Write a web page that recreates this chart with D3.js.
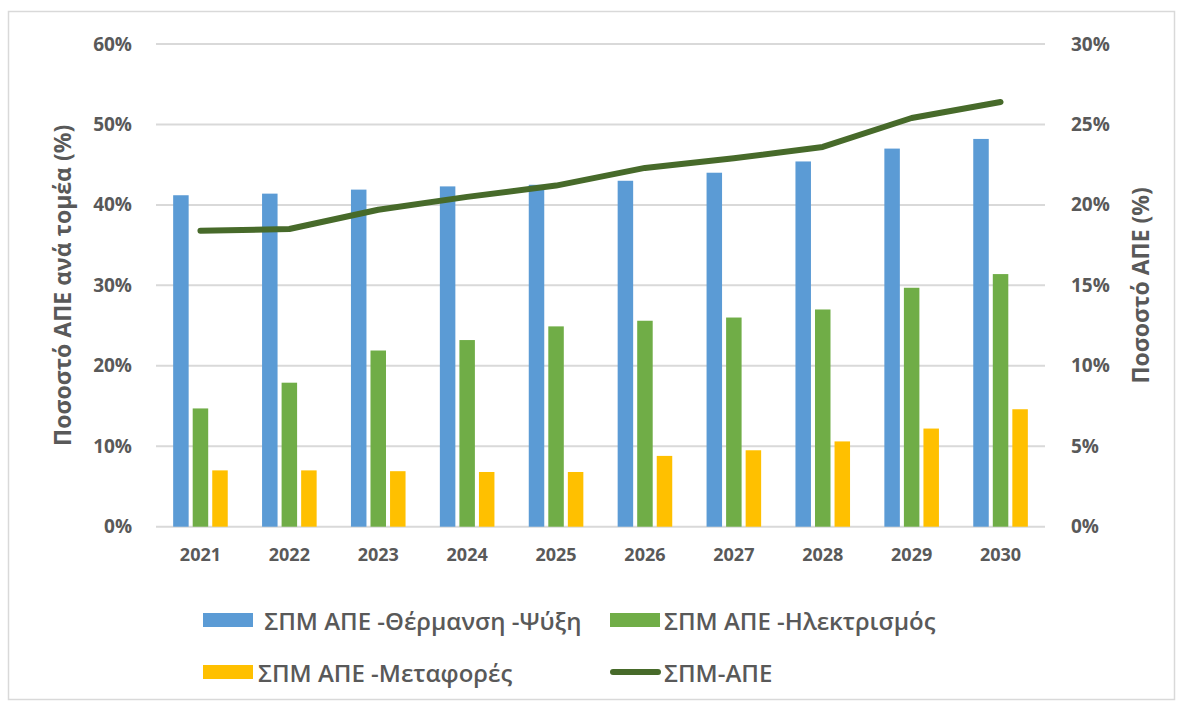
<!DOCTYPE html>
<html>
<head>
<meta charset="utf-8">
<script src="https://cdn.jsdelivr.net/npm/d3@7"></script>
<style>
  html, body { margin: 0; padding: 0; background: #fff; }
  svg { display: block; }
  text { font-family: "Open Sans", "Noto Sans", sans-serif; fill: #595959; }
</style>
</head>
<body>
<svg id="chart" width="1181" height="704"></svg>
<script>
// ---- Data ----
const years = ["2021","2022","2023","2024","2025","2026","2027","2028","2029","2030"];
const heatingCooling = [41.2, 41.4, 41.9, 42.3, 42.5, 43.0, 44.0, 45.4, 47.0, 48.2];
const electricity    = [14.7, 17.9, 21.9, 23.2, 24.9, 25.6, 26.0, 27.0, 29.7, 31.4];
const transport      = [7.0, 7.0, 6.9, 6.8, 6.8, 8.8, 9.5, 10.6, 12.2, 14.6];
const totalRES       = [18.4, 18.5, 19.7, 20.5, 21.2, 22.3, 22.9, 23.6, 25.4, 26.4];
const leftTicks  = [0, 10, 20, 30, 40, 50, 60];
const rightTicks = [0, 5, 10, 15, 20, 25, 30];
const seriesNames = [" ΣΠΜ ΑΠΕ -Θέρμανση -Ψύξη", "ΣΠΜ ΑΠΕ -Ηλεκτρισμός", "ΣΠΜ ΑΠΕ -Μεταφορές", "ΣΠΜ-ΑΠΕ"];
const leftTitle  = "Ποσοστό ΑΠΕ ανά τομέα (%)";
const rightTitle = "Ποσοστό ΑΠΕ (%)";

// ---- Layout ----
const colors = ["#5B9BD5", "#70AD47", "#FFC000", "#476A2A"];
const plot = { left: 156, right: 1045, top: 44, bottom: 526.7 };

const svg = d3.select("#chart");

// outer border
svg.append("rect").attr("x", 8.5).attr("y", 11.5).attr("width", 1166).attr("height", 688)
  .attr("fill", "none").attr("stroke", "#d9d9d9").attr("stroke-width", 1.5);

const x0 = d3.scaleBand().domain(years).range([plot.left, plot.right]).paddingInner(0.386).paddingOuter(0.193);
const keys = [0, 1, 2];
const x1 = d3.scaleBand().domain(keys).range([0, x0.bandwidth()]).paddingInner(0.207).paddingOuter(0);
const yL = d3.scaleLinear().domain([0, 60]).range([plot.bottom, plot.top]);
const yR = d3.scaleLinear().domain([0, 30]).range([plot.bottom, plot.top]);

// gridlines
svg.append("g").selectAll("line").data(leftTicks).join("line")
  .attr("x1", plot.left).attr("x2", plot.right)
  .attr("y1", d => yL(d)).attr("y2", d => yL(d))
  .attr("stroke", "#d9d9d9").attr("stroke-width", 2);

const tickFont = sel => sel.style("font-size", "19px").style("font-weight", "700")
  .attr("fill", "#595959").style("font-family", "'Open Sans', sans-serif");

// left axis labels
const axL = svg.append("g").attr("transform", `translate(${plot.left},0)`)
  .call(d3.axisLeft(yL).tickValues(leftTicks).tickFormat(d => d + "%").tickSize(0).tickPadding(24));
axL.select(".domain").remove();
axL.selectAll("text").call(tickFont);

// right axis labels
const axR = svg.append("g").attr("transform", `translate(${plot.right},0)`)
  .call(d3.axisRight(yR).tickValues(rightTicks).tickFormat(d => d + "%").tickSize(0).tickPadding(26));
axR.select(".domain").remove();
axR.selectAll("text").call(tickFont);

// x axis labels
const axX = svg.append("g").attr("transform", `translate(0,${plot.bottom})`)
  .call(d3.axisBottom(x0).tickSize(0).tickPadding(22));
axX.select(".domain").remove();
axX.selectAll("text").call(tickFont).style("font-size", "18px");

// bars
const barSeries = [heatingCooling, electricity, transport];
const groups = svg.append("g").selectAll("g").data(years).join("g")
  .attr("transform", d => `translate(${x0(d)},0)`);
groups.selectAll("rect").data((d, i) => keys.map(k => ({ k, v: barSeries[k][i] }))).join("rect")
  .attr("x", d => x1(d.k)).attr("width", x1.bandwidth())
  .attr("y", d => yL(d.v)).attr("height", d => yL(0) - yL(d.v))
  .attr("fill", d => colors[d.k]);

// line
const line = d3.line().x((d, i) => x0(years[i]) + x0.bandwidth() / 2).y(d => yR(d));
svg.append("path").datum(totalRES).attr("d", line)
  .attr("fill", "none").attr("stroke", colors[3]).attr("stroke-width", 6)
  .attr("stroke-linecap", "round").attr("stroke-linejoin", "round");

// axis titles
const midY = (plot.top + plot.bottom) / 2;
svg.append("text").attr("transform", `translate(62,${midY}) rotate(-90)`)
  .attr("text-anchor", "middle").attr("dominant-baseline", "central")
  .style("font-size", "23px").style("font-weight", "700").text(leftTitle);
svg.append("text").attr("transform", `translate(1140,${midY}) rotate(-90)`)
  .attr("text-anchor", "middle").attr("dominant-baseline", "central")
  .style("font-size", "23px").style("font-weight", "700").text(rightTitle);

// legend
const legendItems = [
  { name: seriesNames[0], color: colors[0], type: "rect", x: 203, y: 620, tx: 258 },
  { name: seriesNames[1], color: colors[1], type: "rect", x: 610, y: 620, tx: 664 },
  { name: seriesNames[2], color: colors[2], type: "rect", x: 203, y: 672, tx: 258 },
  { name: seriesNames[3], color: colors[3], type: "line", x: 610, y: 672, tx: 664 }
];
const lg = svg.append("g").selectAll("g").data(legendItems).join("g");
lg.filter(d => d.type === "rect").append("rect")
  .attr("x", d => d.x).attr("y", d => d.y - 7).attr("width", 50).attr("height", 14)
  .attr("fill", d => d.color);
lg.filter(d => d.type === "line").append("line")
  .attr("x1", d => d.x + 3).attr("x2", d => d.x + 48).attr("y1", d => d.y).attr("y2", d => d.y)
  .attr("stroke", d => d.color).attr("stroke-width", 6).attr("stroke-linecap", "round");
lg.append("text").attr("x", d => d.tx).attr("y", d => d.y).attr("dominant-baseline", "central")
  .attr("xml:space", "preserve").style("white-space", "pre")
  .style("font-size", "24px").style("font-weight", "600").text(d => d.name);
</script>
</body>
</html>
